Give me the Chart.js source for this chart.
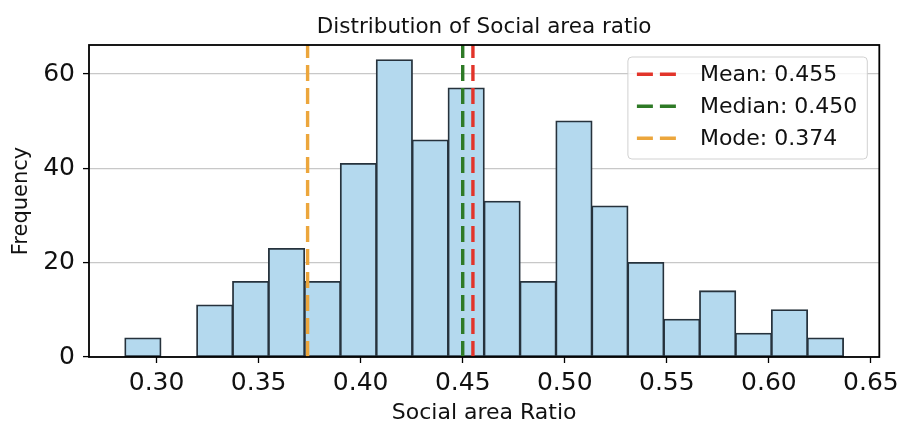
<!DOCTYPE html>
<html>
<head>
<meta charset="utf-8">
<script src="https://cdn.jsdelivr.net/npm/chart.js@4.4.1/dist/chart.umd.min.js"></script>
<style>
  html, body { margin: 0; padding: 0; background: #ffffff; }
  #wrap { width: 904px; height: 426px; }
</style>
</head>
<body>
<div id="wrap"><canvas id="c" width="904" height="426"></canvas></div>
<script>
// ---- data ----
const chartTitle = 'Distribution of Social area ratio';
const xLabel = 'Social area Ratio';
const yLabel = 'Frequency';
const binEdges = [0.2845, 0.3021, 0.3197, 0.3373, 0.3549, 0.3725, 0.3901, 0.4077, 0.4253, 0.4429,
                  0.4605, 0.4781, 0.4957, 0.5133, 0.5309, 0.5485, 0.5661, 0.5837, 0.6013, 0.6189, 0.6365];
const counts = [4, 0, 11, 16, 23, 16, 41, 63, 46, 57, 33, 16, 50, 32, 20, 8, 14, 5, 10, 4];
const statLabels = ['Mean: 0.455', 'Median: 0.450', 'Mode: 0.374'];
const statValues = [0.455, 0.450, 0.374];
const statColors = ['rgb(226,52,42)', 'rgb(46,122,38)', 'rgb(236,166,60)'];
const xTicks = [0.30, 0.35, 0.40, 0.45, 0.50, 0.55, 0.60, 0.65];
const yTicks = [0, 20, 40, 60];
const xRange = [0.2669, 0.6541];
const yRange = [0, 66.15];

// ---- styles ----
const FONT = 'DejaVu Sans';
const barFill = 'rgb(180,217,238)';
const barEdge = 'rgb(38,50,60)';

const spinePlugin = {
  id: 'spines',
  afterDatasetsDraw(chart) {
    const { ctx, chartArea: a } = chart;
    ctx.save();
    ctx.strokeStyle = '#000';
    ctx.lineWidth = 1.8;
    ctx.strokeRect(a.left, a.top, a.right - a.left, a.bottom - a.top);
    ctx.restore();
  }
};

const titlePlugin = {
  id: 'axesTitle',
  afterDraw(chart) {
    const { ctx, chartArea: a } = chart;
    ctx.save();
    ctx.font = '21.5px "' + FONT + '"';
    ctx.fillStyle = '#111';
    ctx.textAlign = 'center';
    ctx.textBaseline = 'alphabetic';
    ctx.fillText(chartTitle, (a.left + a.right) / 2, a.top - 12.5);
    ctx.restore();
  }
};

const legendPlugin = {
  id: 'boxLegend',
  afterDraw(chart) {
    const { ctx, chartArea: a } = chart;
    const fs = 22;
    ctx.save();
    ctx.font = fs + 'px "' + FONT + '"';
    let maxW = 0;
    statLabels.forEach(t => { maxW = Math.max(maxW, ctx.measureText(t).width); });
    const rowH = 32, padX = 9, lineLen = 40, gap = 23;
    const boxW = padX + lineLen + gap + maxW + 10;
    const boxH = 102;
    const x0 = a.right - 12 - boxW;
    const y0 = a.top + 12;
    const r = 4;
    ctx.beginPath();
    ctx.moveTo(x0 + r, y0);
    ctx.lineTo(x0 + boxW - r, y0);
    ctx.quadraticCurveTo(x0 + boxW, y0, x0 + boxW, y0 + r);
    ctx.lineTo(x0 + boxW, y0 + boxH - r);
    ctx.quadraticCurveTo(x0 + boxW, y0 + boxH, x0 + boxW - r, y0 + boxH);
    ctx.lineTo(x0 + r, y0 + boxH);
    ctx.quadraticCurveTo(x0, y0 + boxH, x0, y0 + boxH - r);
    ctx.lineTo(x0, y0 + r);
    ctx.quadraticCurveTo(x0, y0, x0 + r, y0);
    ctx.closePath();
    ctx.fillStyle = 'rgba(255,255,255,0.8)';
    ctx.fill();
    ctx.strokeStyle = 'rgba(204,204,204,0.9)';
    ctx.lineWidth = 1;
    ctx.stroke();
    statLabels.forEach((t, i) => {
      const cy = y0 + 17.3 + rowH * i;
      ctx.beginPath();
      ctx.setLineDash([16, 7]);
      ctx.strokeStyle = statColors[i];
      ctx.lineWidth = 3.4;
      ctx.moveTo(x0 + padX, cy);
      ctx.lineTo(x0 + padX + lineLen, cy);
      ctx.stroke();
      ctx.setLineDash([]);
      ctx.fillStyle = '#111';
      ctx.textBaseline = 'middle';
      ctx.textAlign = 'left';
      ctx.fillText(t, x0 + padX + lineLen + gap, cy + 1);
    });
    ctx.restore();
  }
};

const barData = counts.map((c, i) => ({ x: (binEdges[i] + binEdges[i + 1]) / 2, y: c }));
const lineSets = statValues.map((v, i) => ({
  type: 'line',
  label: statLabels[i],
  data: [{ x: v, y: yRange[0] }, { x: v, y: yRange[1] }],
  borderColor: statColors[i],
  borderWidth: 3.4,
  borderDash: [16, 7],
  pointRadius: 0,
  fill: false,
  order: 1
}));

new Chart(document.getElementById('c'), {
  type: 'bar',
  data: {
    datasets: [{
      type: 'bar',
      label: 'counts',
      data: barData,
      backgroundColor: barFill,
      borderColor: barEdge,
      borderWidth: 1.8,
      borderSkipped: false,
      inflateAmount: 0.6,
      barPercentage: 1,
      categoryPercentage: 1,
      order: 2
    }, ...lineSets]
  },
  options: {
    responsive: false,
    animation: false,
    devicePixelRatio: 1,
    layout: { padding: { left: 0, right: 22, top: 45, bottom: 0 } },
    plugins: {
      legend: { display: false },
      tooltip: { enabled: false },
      title: { display: false }
    },
    scales: {
      x: {
        type: 'linear',
        offset: false,
        min: xRange[0],
        max: xRange[1],
        afterBuildTicks: s => { s.ticks = xTicks.map(v => ({ value: v })); },
        afterFit: s => { s.height = 69; },
        ticks: {
          color: '#111',
          font: { family: FONT, size: 25 },
          padding: 5,
          autoSkip: false,
          maxRotation: 0,
          callback: v => Number(v).toFixed(2)
        },
        grid: { offset: false, drawOnChartArea: false, drawTicks: true, tickLength: 6, tickColor: '#000', tickWidth: 1.3 },
        border: { display: false },
        title: {
          display: true, text: xLabel, color: '#111',
          font: { family: FONT, size: 22 }, padding: { top: 0, bottom: 0 }
        }
      },
      y: {
        min: yRange[0],
        max: yRange[1],
        afterBuildTicks: s => { s.ticks = yTicks.map(v => ({ value: v })); },
        afterFit: s => { s.width = 89; },
        ticks: {
          color: '#111',
          font: { family: FONT, size: 25 },
          padding: 8
        },
        grid: { color: '#c8c8c8', lineWidth: 1.2, tickLength: 6, tickColor: '#000', tickWidth: 1.3 },
        border: { display: false },
        title: {
          display: true, text: yLabel, color: '#111',
          font: { family: FONT, size: 21 }, padding: { top: 9, bottom: 0 }
        }
      }
    }
  },
  plugins: [spinePlugin, titlePlugin, legendPlugin]
});
</script>
</body>
</html>
